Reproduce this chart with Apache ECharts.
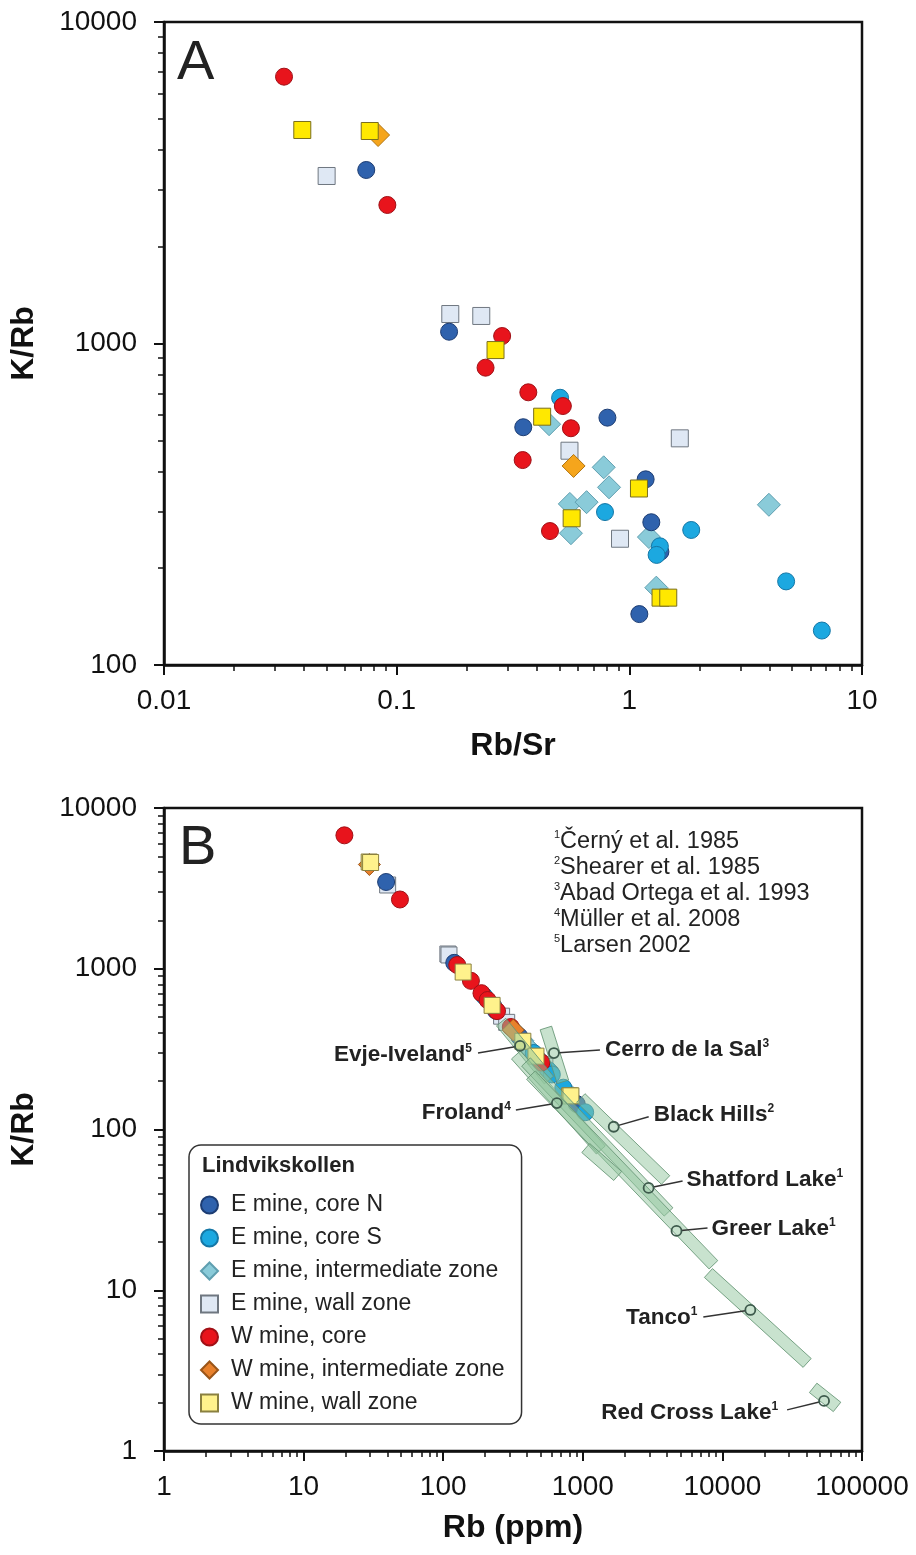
<!DOCTYPE html>
<html>
<head>
<meta charset="utf-8">
<script src="https://cdn.jsdelivr.net/npm/echarts@6/dist/echarts.min.js"></script>
<style>
html, body { margin: 0; padding: 0; background: #fff; }
#main { width: 916px; height: 1555px; }
</style>
</head>
<body>
<div id="main"></div>
<script>
// ---- Lindvikskollen samples: K/Rb (both panels), Rb/Sr (panel A), Rb ppm (panel B)
var coreN_KRb  = [3465, 1088, 588, 549, 378, 278, 144, 225];
var coreN_RbSr = [0.074, 0.168, 0.805, 0.350, 1.175, 1.243, 1.104, 1.36];
var coreN_Rb   = [39, 120, 228, 238, 352, 470, 905, 590];

var coreS_KRb  = [678, 299, 263, 234, 220, 182, 128];
var coreS_RbSr = [0.504, 0.786, 1.845, 1.353, 1.31, 4.72, 6.72];
var coreS_Rb   = [196, 445, 500, 565, 600, 725, 1040];

var interE_KRb  = [561, 412, 357, 315, 317, 321, 257, 250, 174];
var interE_RbSr = [0.452, 0.776, 0.818, 3.98, 0.555, 0.655, 0.561, 1.214, 1.306];
var interE_Rb   = [236, 322, 372, 418, 415, 410, 512, 530, 760];

var wallE_KRb  = [3319, 1235, 1218, 507, 464, 247];
var wallE_RbSr = [0.050, 0.170, 0.231, 1.648, 0.553, 0.912];
var wallE_Rb   = [40, 108, 110, 262, 285, 535];

var coreW_KRb  = [6760, 2697, 1055, 841, 705, 639, 545, 434, 261];
var coreW_RbSr = [0.0328, 0.0912, 0.284, 0.241, 0.368, 0.518, 0.561, 0.348, 0.456];
var coreW_Rb   = [19.6, 49, 126, 158, 188, 208, 243, 305, 505];

var interW_KRb  = [4451, 416];
var interW_RbSr = [0.0832, 0.576];
var interW_Rb   = [29.6, 318];

var wallW_KRb  = [4614, 4581, 954, 592, 354, 286, 162, 162];
var wallW_RbSr = [0.0393, 0.0766, 0.266, 0.422, 1.10, 0.565, 1.362, 1.470];
var wallW_Rb   = [29.5, 30.2, 139, 224, 372, 462, 805, 822];

// ---- other pegmatites (panel B)
var refNames = ['Evje-Iveland', 'Cerro de la Sal', 'Froland', 'Black Hills', 'Shatford Lake', 'Greer Lake', 'Tanco', 'Red Cross Lake'];
var refNotes = [5, 3, 4, 2, 1, 1, 1, 1];
var refRb    = [355, 621, 652, 1665, 2960, 4690, 15850, 53500];
var refKRb   = [331, 299, 146, 104, 43.3, 23.4, 7.54, 2.05];

// range fields: [start, end]
var fieldRb  = [[260, 572], [544, 720], [332, 1345], [968, 3917], [392, 4115], [425, 8625], [7943, 40470], [1050, 1778], [44670, 66270]];
var fieldKRb = [[466, 203], [428, 198], [291, 74.6], [157, 48.5], [263, 30.7], [218, 14.4], [12.8, 3.53], [76.7, 51.4], [2.47, 1.88]];

var sources = ['Černý et al. 1985', 'Shearer et al. 1985', 'Abad Ortega et al. 1993', 'Müller et al. 2008', 'Larsen 2002'];

// tick labels
var aXTicks = [0.01, 0.1, 1, 10];
var aYTicks = [100, 1000, 10000];
var bXTicks = [1, 10, 100, 1000, 10000, 100000];
var bYTicks = [1, 10, 100, 1000, 10000];

var FONT = '"Liberation Sans", Arial, sans-serif';
var INK = '#111';

// label placement of the pegmatite names (pixel offsets from the marker)
var labelPlace = [
    {lx: -42, ly: 7, tx: -48, ty: 9, align: 'right'},
    {lx: 46, ly: -3, tx: 51, ty: -3, align: 'left'},
    {lx: -41, ly: 7, tx: -46, ty: 10, align: 'right'},
    {lx: 35, ly: -10, tx: 40, ty: -12, align: 'left'},
    {lx: 34, ly: -7, tx: 38, ty: -8, align: 'left'},
    {lx: 31, ly: -3, tx: 35, ty: -2, align: 'left'},
    {lx: -47, ly: 7, tx: -53, ty: 8, align: 'right'},
    {lx: -37, ly: 9, tx: -46, ty: 12, align: 'right'}
];

function fmt(v) {
    var p = Math.round(Math.log(v) / Math.LN10);
    return p < 0 ? Math.pow(10, p).toFixed(-p) : String(Math.pow(10, p));
}

function minorTicks(ticks) {
    var out = [];
    for (var i = 0; i < ticks.length - 1; i++) {
        for (var k = 2; k <= 9; k++) out.push(+(ticks[i] * k).toPrecision(3));
    }
    return out;
}

function majorAxis(grid, ticks, name, gap, pos, margin) {
    return {
        type: 'log', logBase: 10, gridIndex: grid, position: pos,
        min: ticks[0], max: ticks[ticks.length - 1],
        name: name, nameLocation: 'middle', nameGap: gap,
        nameTextStyle: {fontSize: 32, fontWeight: 'bold', color: INK, fontFamily: FONT},
        axisLine: {show: true, onZero: false, lineStyle: {color: INK, width: 2.5}},
        axisTick: {show: true, inside: false, length: 10, lineStyle: {color: INK, width: 2}, customValues: ticks},
        axisLabel: {customValues: ticks, formatter: fmt, fontSize: 28, color: INK, fontFamily: FONT, margin: margin},
        splitLine: {show: false}
    };
}

function minorAxis(grid, ticks, pos) {
    return {
        type: 'log', logBase: 10, gridIndex: grid, position: pos,
        min: ticks[0], max: ticks[ticks.length - 1],
        axisLine: {show: false},
        axisTick: {show: true, inside: false, length: 6, lineStyle: {color: INK, width: 1.5}, customValues: minorTicks(ticks)},
        axisLabel: {show: false},
        splitLine: {show: false}
    };
}

function pts(xs, ys) {
    return xs.map(function (x, i) { return [x, ys[i]]; });
}

function scatter(name, data, xi, yi, symbol, size, color, border) {
    return {
        type: 'scatter', name: name, xAxisIndex: xi, yAxisIndex: yi, data: data,
        symbol: symbol, symbolSize: size,
        itemStyle: {color: color, borderColor: border, borderWidth: 1, opacity: 1},
        emphasis: {disabled: true}
    };
}

var groupNames = ['E mine, core N', 'E mine, core S', 'E mine, intermediate zone', 'E mine, wall zone',
    'W mine, core', 'W mine, intermediate zone', 'W mine, wall zone'];

var myChart = echarts.init(document.getElementById('main'));

var series = [
    // panel B first so the legend takes its symbols from here
    scatter(groupNames[2], pts(interE_Rb, interE_KRb), 2, 2, 'diamond', 22, '#8acbd9', '#5f9fb0'),
    scatter(groupNames[3], pts(wallE_Rb, wallE_KRb), 2, 2, 'rect', 16, '#dfe8f4', '#6f7780'),
    scatter(groupNames[0], pts(coreN_Rb, coreN_KRb), 2, 2, 'circle', 17, '#2f62ad', '#1d3d73'),
    scatter(groupNames[1], pts(coreS_Rb, coreS_KRb), 2, 2, 'circle', 17, '#1ca8e0', '#1577a6'),
    scatter(groupNames[4], pts(coreW_Rb, coreW_KRb), 2, 2, 'circle', 17, '#e8141c', '#a01016'),
    scatter(groupNames[5], pts(interW_Rb, interW_KRb), 2, 2, 'diamond', 22, '#e8812c', '#9a5518'),
    scatter(groupNames[6], pts(wallW_Rb, wallW_KRb), 2, 2, 'rect', 16, '#fff28c', '#8a8040'),
    // panel A
    scatter(groupNames[2], pts(interE_RbSr, interE_KRb), 0, 0, 'diamond', 23, '#8acbd9', '#5f9fb0'),
    scatter(groupNames[3], pts(wallE_RbSr, wallE_KRb), 0, 0, 'rect', 17, '#dfe8f4', '#6f7780'),
    scatter(groupNames[0], pts(coreN_RbSr, coreN_KRb), 0, 0, 'circle', 17, '#2f62ad', '#1d3d73'),
    scatter(groupNames[1], pts(coreS_RbSr, coreS_KRb), 0, 0, 'circle', 17, '#1ca8e0', '#1577a6'),
    scatter(groupNames[4], pts(coreW_RbSr, coreW_KRb), 0, 0, 'circle', 17, '#e8141c', '#a01016'),
    scatter(groupNames[5], pts(interW_RbSr, interW_KRb), 0, 0, 'diamond', 23, '#f5a51c', '#b27510'),
    scatter(groupNames[6], pts(wallW_RbSr, wallW_KRb), 0, 0, 'rect', 17, '#ffe800', '#7a6e1e'),
    // range fields of other pegmatites
    {
        type: 'custom', xAxisIndex: 2, yAxisIndex: 2, silent: true, z: 3,
        data: fieldRb.map(function (r, i) { return [r[0], fieldKRb[i][0], r[1], fieldKRb[i][1]]; }),
        encode: {x: [0, 2], y: [1, 3]},
        renderItem: function (params, api) {
            var a = api.coord([api.value(0), api.value(1)]);
            var b = api.coord([api.value(2), api.value(3)]);
            var dx = b[0] - a[0], dy = b[1] - a[1];
            var len = Math.sqrt(dx * dx + dy * dy);
            var nx = -dy / len * 6, ny = dx / len * 6;
            return {
                type: 'polygon',
                shape: {points: [[a[0] + nx, a[1] + ny], [b[0] + nx, b[1] + ny], [b[0] - nx, b[1] - ny], [a[0] - nx, a[1] - ny]]},
                style: {fill: 'rgba(145,197,157,0.5)', stroke: 'rgba(100,148,115,0.85)', lineWidth: 1}
            };
        }
    },
    // named points with leader lines
    {
        type: 'custom', xAxisIndex: 2, yAxisIndex: 2, silent: true, z: 4,
        data: pts(refRb, refKRb),
        encode: {x: 0, y: 1},
        renderItem: function (params, api) {
            var i = params.dataIndex;
            var p = api.coord([api.value(0), api.value(1)]);
            var L = labelPlace[i];
            var ang = Math.atan2(L.ly, L.lx);
            return {
                type: 'group',
                children: [
                    {type: 'line', shape: {x1: p[0] + 5 * Math.cos(ang), y1: p[1] + 5 * Math.sin(ang), x2: p[0] + L.lx, y2: p[1] + L.ly},
                        style: {stroke: '#333', lineWidth: 1.5}},
                    {type: 'circle', shape: {cx: p[0], cy: p[1], r: 5},
                        style: {fill: 'rgba(0,0,0,0)', stroke: '#3d5a4c', lineWidth: 1.8}},
                    {type: 'text', x: p[0] + L.tx, y: p[1] + L.ty,
                        style: {
                            text: '{n|' + refNames[i] + '}{s|' + refNotes[i] + '}',
                            align: L.align, textAlign: L.align, verticalAlign: 'middle', textVerticalAlign: 'middle',
                            rich: {
                                n: {fontSize: 22.5, fontWeight: 'bold', fontFamily: FONT, fill: '#222', lineHeight: 24},
                                s: {fontSize: 12, fontWeight: 'bold', fontFamily: FONT, fill: '#222', lineHeight: 13, verticalAlign: 'top'}
                            }
                        }}
                ]
            };
        }
    }
];

var option = {
    animation: false,
    backgroundColor: '#fff',
    grid: [
        {left: 162, top: 22, width: 700, height: 643, show: true, borderColor: INK, borderWidth: 2.5, backgroundColor: 'transparent'},
        {left: 162, top: 808, width: 700, height: 643, show: true, borderColor: INK, borderWidth: 2.5, backgroundColor: 'transparent'}
    ],
    xAxis: [
        majorAxis(0, aXTicks, 'Rb/Sr', 65, 'bottom', 22),
        minorAxis(0, aXTicks, 'bottom'),
        majorAxis(1, bXTicks, 'Rb (ppm)', 61, 'bottom', 22),
        minorAxis(1, bXTicks, 'bottom')
    ],
    yAxis: [
        majorAxis(0, aYTicks, 'K/Rb', 124, 'left', 27),
        minorAxis(0, aYTicks, 'left'),
        majorAxis(1, bYTicks, 'K/Rb', 124, 'left', 27),
        minorAxis(1, bYTicks, 'left')
    ],
    legend: {
        orient: 'vertical', left: 189, top: 1145,
        padding: [47, 17, 8, 11],
        backgroundColor: '#fff', borderColor: '#333', borderWidth: 1.5, borderRadius: 12,
        itemWidth: 17, itemHeight: 17, itemGap: 7,
        selectedMode: false,
        textStyle: {fontSize: 23, color: '#222', fontFamily: FONT, lineHeight: 26, padding: [0, 0, 0, 8]},
        data: groupNames
    },
    graphic: [
        {type: 'text', left: 177, top: 36, z: 10, style: {text: 'A', font: '56px ' + FONT, fill: '#222'}},
        {type: 'text', left: 179, top: 821, z: 10, style: {text: 'B', font: '56px ' + FONT, fill: '#222'}},
        {type: 'text', left: 202, top: 1155, z: 10, style: {text: 'Lindvikskollen', font: 'bold 22px ' + FONT, fill: '#222'}},
        {type: 'text', left: 554, top: 829, z: 10, style: {
            text: sources.map(function (s, i) { return '{s|' + (i + 1) + '}{t|' + s + '}'; }).join('\n'),
            fill: '#222',
            rich: {
                s: {fontSize: 11, fontFamily: FONT, fill: '#222', lineHeight: 12, verticalAlign: 'top'},
                t: {fontSize: 23.5, fontFamily: FONT, fill: '#222', lineHeight: 26}
            }
        }}
    ],
    series: series
};

myChart.setOption(option);
</script>
</body>
</html>
